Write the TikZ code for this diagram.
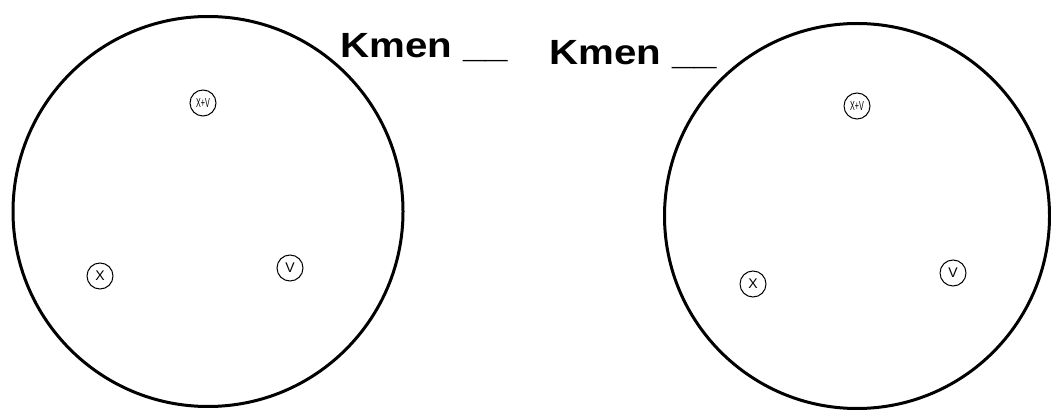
\documentclass[tikz,border=0pt]{standalone}
\usepackage{fontspec}
\setmainfont{Liberation Sans}
\begin{document}
\begin{tikzpicture}[x=1pt,y=-1pt,
  big/.style={draw=black,line width=3pt,circle,minimum size=#1,inner sep=0pt},
  small/.style={draw=black,line width=1pt,circle,minimum size=26pt,inner sep=0pt,font=\fontsize{14}{14}\selectfont},
  xvtext/.style={font=\fontsize{13}{13}\selectfont,xscale=0.55,inner sep=0pt},
  lbl/.style={font=\bfseries\fontsize{35}{35}\selectfont,inner sep=0pt,anchor=base west,xscale=1.15}]
\useasboundingbox (0,0) rectangle (1051,411);
\node[big=390pt] (L) at (208,211.5) {};
\node[big=385pt] (R) at (857,216) {};
\node[small] (lxv) at (203,103) {};
\node[xvtext] (lxvt) at (lxv) {X+V};
\node[small] (lx) at (100,276) {X};
\node[small] (lv) at (290,268) {V};
\node[small] (rxv) at (857,106) {};
\node[xvtext] (rxvt) at (rxv) {X+V};
\node[small] (rx) at (753,284) {X};
\node[small] (rv) at (953,273) {V};
\node[lbl] (k1) at (340,58) {Kmen \_\_};
\node[lbl] (k2) at (549,65) {Kmen \_\_};
\end{tikzpicture}
\end{document}
